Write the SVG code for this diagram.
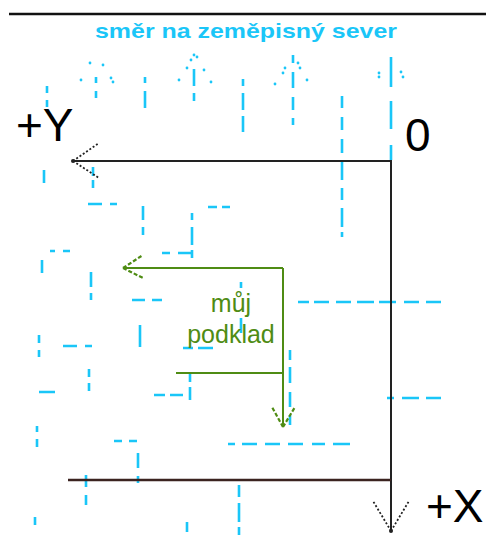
<svg xmlns="http://www.w3.org/2000/svg" width="486" height="535" viewBox="0 0 486 535">
<style>
.blue{fill:none;stroke:#1ac6f8;stroke-width:2.6;}
.dot{fill:#1ac6f8;}
.ax{fill:none;stroke:#222;stroke-width:2;}
.axarm{fill:none;stroke:#222;stroke-width:1.8;stroke-dasharray:2 2;}
.grn{fill:none;stroke:#4f8c14;stroke-width:2;}
.grnarm{fill:none;stroke:#4f8c14;stroke-width:2.2;stroke-dasharray:4 2;}
.lbl{font-family:"Liberation Sans",Arial,sans-serif;fill:#000;font-size:46px;}
.gtxt{font-family:"Liberation Sans",Arial,sans-serif;fill:#4f8c14;font-size:25px;text-anchor:middle;}
</style>
<rect width="486" height="535" fill="#fff"/>
<line x1="9" y1="14" x2="486" y2="14" stroke="#111" stroke-width="2.6"/>
<g id="north-grid">
<text x="95" y="38" font-family="'Liberation Sans',Arial,sans-serif" font-size="21" font-weight="bold" fill="#1ac6f8" textLength="302" lengthAdjust="spacingAndGlyphs">směr na zeměpisný sever</text>
<path class="blue" d="M96 77V83M96 91V98M194 69V86M194 93V101M293 55V63M293 72V88M293 97V110M293 118V125M391 57V87M391 101V129M391 145V160M145 77V83M145 91V108M47 86V93M47 100V107M44 170V183M243 79V86M243 93V110M243 116V132M342 96V108M342 117V130M342 139V153M342 162V180M342 188V200M342 208V227M342 232V237M93 167V176M93 180V188M143 206V220M143 227V235M192 213V220M192 227V245M192 250V258M42 260V273M91 272V287M91 293V300M140 325V347M39 335V343M39 350V357M241 282V288M241 318V333M290 350V360M290 367V383M290 392V407M290 415V425M89 369V377M89 383V391M190 373V382M190 387V400M37 426V432M37 439V447M138 453V468M138 476V483M86 475V487M86 495V505M35 517V525M239 485V497M239 503V522M239 527V535M187 522V532"/>
<path class="blue" d="M88 204H102M110 204H117M208 207H217M222 207H230M162 253H170M178 253H192M50 251H55M63 251H70M132 300H145M152 300H162M298 302H309M314 302H329M336 302H351M357 302H374M379 302H396M404 302H419M426 302H441M63 346H77M85 346H92M183 348H193M198 348H213M39 392H55M154 395H165M170 395H183M114 441H122M129 441H137M228 444H235M242 444H257M265 444H280M288 444H303M312 444H325M333 444H350M387 398H394M402 398H419M426 398H441"/>
<g class="dot">
<circle cx="90" cy="63" r="1.4"/><circle cx="103" cy="65" r="1.4"/><circle cx="81" cy="80" r="1.4"/><circle cx="111" cy="78" r="1.4"/><circle cx="113" cy="82" r="1.4"/>
<circle cx="194" cy="55" r="1.4"/><circle cx="197" cy="57" r="1.4"/><circle cx="191" cy="60" r="1.4"/><circle cx="187" cy="68" r="1.4"/><circle cx="204" cy="70" r="1.4"/><circle cx="179" cy="80" r="1.4"/><circle cx="211" cy="82" r="1.4"/>
<circle cx="285" cy="68" r="1.4"/><circle cx="283" cy="73" r="1.4"/><circle cx="298" cy="63" r="1.4"/><circle cx="300" cy="68" r="1.4"/><circle cx="275" cy="84" r="1.4"/><circle cx="307" cy="80" r="1.4"/>
<circle cx="379" cy="73" r="1.4"/><circle cx="379" cy="77" r="1.4"/><circle cx="401" cy="72" r="1.4"/><circle cx="403" cy="77" r="1.4"/>
</g>
</g>
<g id="connectors">
<path class="ax" d="M391 161H73M391 160V532"/>
<path class="axarm" d="M73 161L99 143M73 161L99 178M391 531L373 501M391 531L409 501"/>
<circle cx="73" cy="161" r="2" fill="#222"/>
<circle cx="391" cy="531" r="2" fill="#222"/>
<line x1="68" y1="480" x2="391" y2="480" stroke="#3b2320" stroke-width="2.4"/>
</g>
<g id="label-y"><text class="lbl" x="16" y="141">+Y</text></g>
<g id="label-0"><text class="lbl" x="405" y="151">0</text></g>
<g id="label-x"><text class="lbl" x="426" y="522">+X</text></g>
<g id="muj-podklad">
<path class="grn" d="M283 268H124M283 268V426M176 373H283"/>
<path class="grnarm" d="M123 268L143 255M123 268L143 278M283 427L272 407M283 427L295 407"/>
<text class="gtxt" x="231" y="312">můj</text>
<text class="gtxt" x="231" y="343">podklad</text>
</g>
</svg>
